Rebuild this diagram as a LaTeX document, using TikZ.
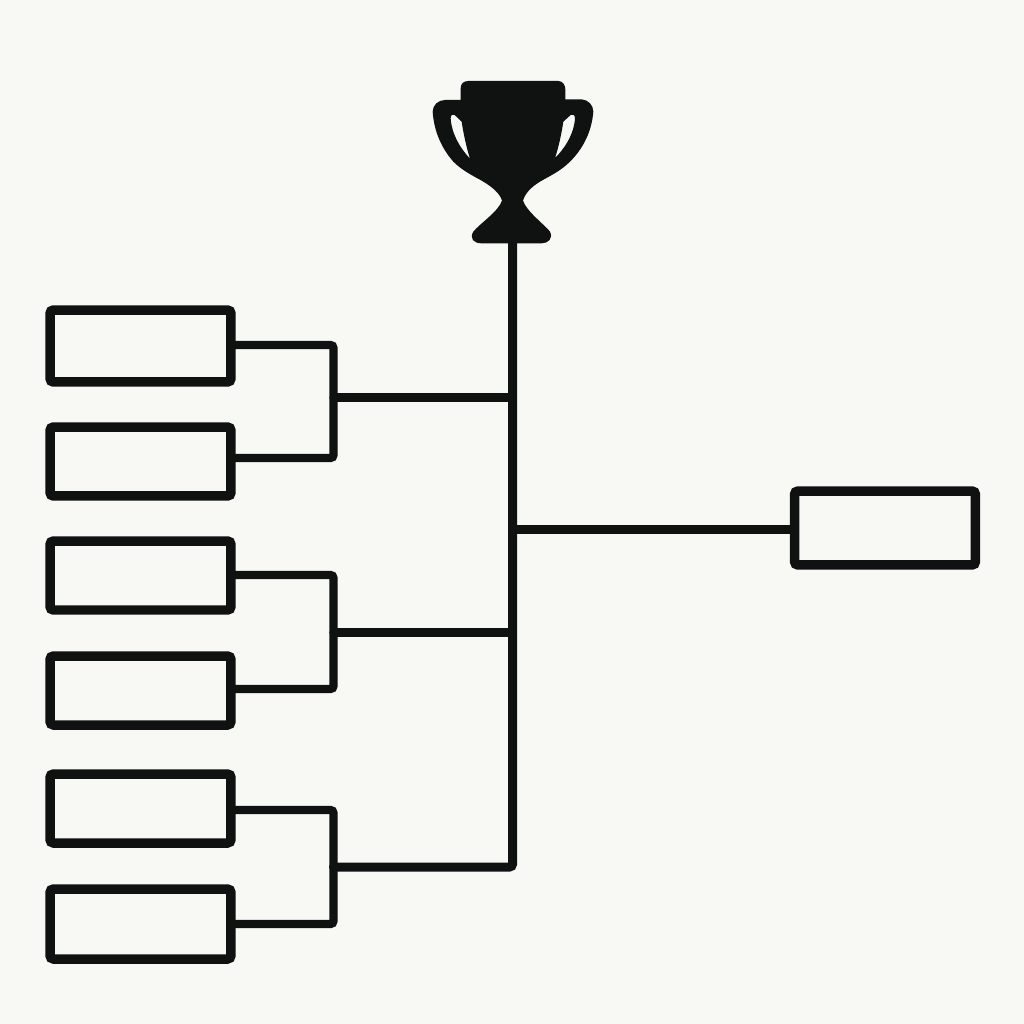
\documentclass[tikz,border=0pt]{standalone}
\definecolor{paper}{HTML}{F8F8F4}
\definecolor{ink}{HTML}{101212}
\tikzset{
  slot/.style={draw=ink,line width=0.19cm,rectangle,rounded corners=0.07cm,inner sep=0pt,outer sep=0pt,minimum width=3.62cm},
  wire/.style={draw=ink,line width=0.165cm,rounded corners=0.06cm,line cap=round},
  stem/.style={draw=ink,line width=0.18cm,line cap=round}
}
\begin{document}
\begin{tikzpicture}[x=0.02cm,y=-0.02cm]
\useasboundingbox (0,0) rectangle (1024,1024);
\fill[paper] (0,0) rectangle (1024,1024);
% trophy
\begin{scope}[shift={(420,70)},x=0.006667cm,y=-0.006667cm]
\fill[ink,even odd rule]
 (122,90) -- (122,55) .. controls (122,42) and (130,33) .. (145,33)
 -- (415,33) .. controls (428,33) and (436,45) .. (436,58) -- (436,88)
 -- (485,88) .. controls (505,90) and (520,105) .. (520,125)
 .. controls (515,185) and (490,235) .. (450,275)
 .. controls (420,305) and (385,320) .. (360,335)
 .. controls (335,350) and (315,370) .. (309,392)
 .. controls (320,425) and (375,465) .. (390,485)
 .. controls (400,505) and (385,520) .. (365,520)
 -- (185,520) .. controls (160,520) and (148,505) .. (160,485)
 .. controls (180,460) and (235,425) .. (246,392)
 .. controls (240,370) and (215,350) .. (190,335)
 .. controls (165,320) and (130,305) .. (100,275)
 .. controls (65,235) and (42,185) .. (38,125)
 .. controls (38,105) and (55,90) .. (75,90) -- cycle
 (92,145) .. controls (92,135) and (98,130) .. (104,135) -- (125,155)
 .. controls (130,190) and (140,235) .. (150,266)
 .. controls (125,240) and (95,195) .. (92,145) -- cycle
 (465,145) .. controls (465,135) and (458,130) .. (452,135) -- (430,155)
 .. controls (425,190) and (415,235) .. (405,264)
 .. controls (430,240) and (462,195) .. (465,145) -- cycle;
\end{scope}
% slots
\node[slot,minimum height=1.44cm] (a1) at (140.5,346) {};
\node[slot,minimum height=1.38cm] (a2) at (140.5,461.5) {};
\node[slot,minimum height=1.38cm] (a3) at (140.5,575.5) {};
\node[slot,minimum height=1.38cm] (a4) at (140.5,690.5) {};
\node[slot,minimum height=1.38cm] (a5) at (140.5,808.5) {};
\node[slot,minimum height=1.40cm] (a6) at (140.5,924) {};
\node[slot,minimum height=1.48cm] (w) at (885,528) {};
% junctions
\coordinate (base) at (512.5,238);
\coordinate (bot) at (512.5,867);
\coordinate (m1) at (512.5,397.5);
\coordinate (m2) at (512.5,632.5);
\coordinate (m3) at (512.5,529.5);
\coordinate (j3) at (333.5,867);
\coordinate (j1) at (333.5,397.5);
\coordinate (j2) at (333.5,632.5);
\coordinate (c1) at (333.5,345);
\coordinate (c2) at (333.5,458);
\coordinate (c3) at (333.5,575);
\coordinate (c4) at (333.5,689);
\coordinate (c5) at (333.5,810);
\coordinate (c6) at (333.5,924);
% brackets
\draw[wire] (c1 -| a1.east) -- (c1) -- (c2) -- (c2 -| a2.east);
\draw[wire] (c3 -| a3.east) -- (c3) -- (c4) -- (c4 -| a4.east);
\draw[wire] (c5 -| a5.east) -- (c5) -- (c6) -- (c6 -| a6.east);
% main stem
\draw[stem,rounded corners=0.06cm] (base) -- (bot) -- (j3);
\draw[wire] (j1) -- (m1);
\draw[wire] (j2) -- (m2);
\draw[wire] (m3) -- (m3 -| w.west);
\end{tikzpicture}
\end{document}
